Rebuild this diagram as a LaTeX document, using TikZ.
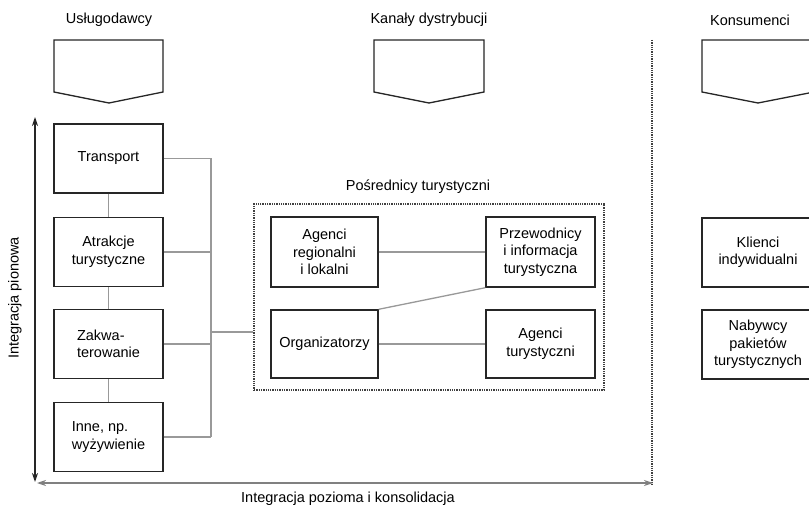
\documentclass[tikz,border=0pt]{standalone}
\usepackage{fontspec}
\setmainfont{Liberation Sans}
\usetikzlibrary{arrows.meta}
\begin{document}
\begin{tikzpicture}[x=1pt,y=-1pt,
  every node/.style={font=\fontsize{14.5}{17.5}\selectfont},
  box/.style={draw=black!85,line width=1.4pt,minimum width=109pt,minimum height=69pt,inner sep=0pt,align=center},
  conn/.style={draw=black!40,line width=1.3pt},
  pent/.style={draw=black!85,line width=1.3pt},
  dotbox/.style={draw=black!75,line width=1.3pt,densely dotted,minimum width=350pt,minimum height=186pt,inner sep=0pt},
  axis/.style={line width=1.2pt,{Stealth[length=9pt,width=6pt]}-{Stealth[length=9pt,width=6pt]}}
]
\clip (0,0) rectangle (809,505);
\fill[white] (0,0) rectangle (809,505);

% column titles
\node (t1) at (109,20) {Usługodawcy};
\node (t2) at (429,20) {Kanały dystrybucji};
\node (t3) at (750,20) {Konsumenci};

% pentagons
\draw[pent] (54,40) -- (163,40) -- (163,92) -- (109,103) -- (54,92) -- cycle;
\draw[pent] (374,40) -- (484,40) -- (484,92) -- (429,103) -- (374,92) -- cycle;
\draw[pent] (702,40) -- (814,40) -- (814,92) -- (758,103) -- (702,92) -- cycle;

% dotted separator
\coordinate (sepT) at (652,40);
\coordinate (sepB) at (652,484);
\draw[draw=black!75,line width=1.3pt,densely dotted] (sepT) -- (sepB);

% left boxes
\node[box] (tr) at (108.5,158.5) {Transport};
\node[box] (at) at (108.5,252) {Atrakcje\\turystyczne};
\node[box,align=left] (za) at (108.5,344) {Zakwa-\\terowanie};
\node[box,align=left] (in) at (108.5,437) {Inne, np.\\wyżywienie};

\draw[conn] (tr) -- (at);
\draw[conn] (at) -- (za);
\draw[conn] (za) -- (in);

\coordinate (bx) at (211,0);
\draw[conn] (tr.east) -- (tr.east -| bx);
\draw[conn] (at.east) -- (at.east -| bx);
\draw[conn] (za.east) -- (za.east -| bx);
\draw[conn] (in.east) -- (in.east -| bx);
\draw[conn] (tr.east -| bx) -- (in.east -| bx);

% intermediaries
\node[dotbox] (pos) at (429,297) {};
\node (post) at (418,187) {Pośrednicy turystyczni};
\node[box,minimum width=107pt,minimum height=70pt] (ag) at (324.5,252) {Agenci\\regionalni\\i lokalni};
\node[box,minimum width=109pt,minimum height=70pt] (prz) at (540.5,252) {Przewodnicy\\i informacja\\turystyczna};
\node[box,minimum width=107pt,minimum height=68pt] (org) at (324.5,344) {Organizatorzy};
\node[box,minimum width=109pt,minimum height=68pt] (agt) at (540.5,344) {Agenci\\turystyczni};

\draw[conn] (ag) -- (prz);
\draw[conn] (org) -- (agt);
\draw[conn] (org.north east) -- (prz.south west);

\coordinate (brk) at (211,332);
\draw[conn] (brk) -- (brk -| pos.west);

% consumers
\node[box,minimum width=112pt,minimum height=69pt] (kl) at (758,252.5) {Klienci\\indywidualni};
\node[box,minimum width=112pt,minimum height=69pt] (nab) at (758,344.5) {Nabywcy\\pakietów\\turystycznych};

% axes
\coordinate (vTop) at (35,117);
\coordinate (vBot) at (35,482);
\draw[axis,black!85] (vTop) -- (vBot);
\coordinate (hL) at (37,483);
\coordinate (hR) at (653,483);
\draw[axis,black!50] (hL) -- (hR);

\node[rotate=90] (lv) at (15,298) {Integracja pionowa};
\node (lh) at (348,499) {Integracja pozioma i konsolidacja};
\end{tikzpicture}
\end{document}
